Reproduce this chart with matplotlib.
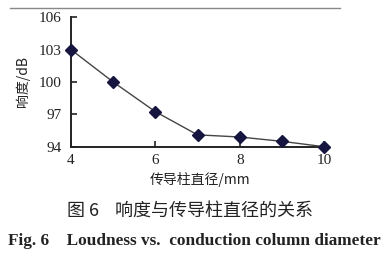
import matplotlib
matplotlib.use("Agg")
import matplotlib.pyplot as plt
from matplotlib.lines import Line2D

diameter_mm = [4, 5, 6, 7, 8, 9, 10]
loudness_db = [103.0, 100.0, 97.25, 95.1, 94.9, 94.5, 94.0]
x_ticks = [4, 6, 8, 10]
y_ticks = [94, 97, 100, 103, 106]
x_label = "传导柱直径/mm"
y_label = "响度/dB"
caption_cn = "图 6    响度与传导柱直径的关系"
caption_en = "Fig. 6    Loudness vs.  conduction column diameter"

serif = ["Liberation Serif", "Noto Sans CJK SC"]
cjk = ["Noto Sans CJK SC", "Liberation Serif"]

fig = plt.figure(figsize=(3.88, 2.54), dpi=100)
ax = fig.add_axes([0.183, 0.4224, 0.663, 0.5096])
ax.plot(diameter_mm, loudness_db, color="#444444", lw=1.0,
        marker="D", markersize=6.2, markerfacecolor="#15153f",
        markeredgecolor="#15153f", clip_on=False, zorder=3)
ax.set_xlim(4, 10.1)
ax.set_ylim(94, 106)
ax.set_xticks(x_ticks)
ax.set_yticks(y_ticks)
for s in ["top", "right"]:
    ax.spines[s].set_visible(False)
for s in ["left", "bottom"]:
    ax.spines[s].set_linewidth(1.4)
    ax.spines[s].set_color("#222222")
ax.tick_params(direction="in", length=4, width=1.2, color="#222222",
               labelsize=11)
ax.tick_params(axis="y", pad=7)
ax.tick_params(axis="x", pad=5)
for lab in ax.get_xticklabels() + ax.get_yticklabels():
    lab.set_family(serif)
    lab.set_color("#222222")
ax.set_xlabel(x_label, family=cjk, fontsize=10, color="#222222", labelpad=4)
ax.set_ylabel(y_label, family=cjk, fontsize=10, color="#222222", labelpad=6)

fig.add_artist(Line2D([0.026, 0.875], [0.968, 0.968], transform=fig.transFigure,
                      color="#888888", lw=1.0))
fig.text(0.49, 0.172, caption_cn, family=cjk, fontsize=13,
         ha="center", va="center", color="#222222")
fig.text(0.02, 0.052, caption_en, family=serif, fontsize=12.4,
         fontweight="bold", ha="left", va="center", color="#222222")

fig.savefig("out.png", dpi=100)
